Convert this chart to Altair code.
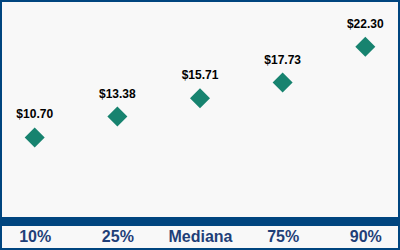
import altair as alt
import pandas as pd

categories = ["10%", "25%", "Mediana", "75%", "90%"]
values = [10.70, 13.38, 15.71, 17.73, 22.30]

df = pd.DataFrame({"cat": categories, "val": values})

FONT = "Liberation Sans"
BLUE = "#00457F"
TEAL = "#17836F"

x = alt.X("cat:O", sort=None, title=None,
          scale=alt.Scale(type="point", padding=0.42),
          axis=alt.Axis(labelAngle=0, labelFont=FONT, labelFontSize=16,
                        labelFontWeight="bold", labelColor="#1F3F78",
                        domainColor=BLUE, domainWidth=9, ticks=False,
                        tickSize=0, labelPadding=7, grid=False))
y = alt.Y("val:Q", title=None, axis=None,
          scale=alt.Scale(domain=[0, 28.3], nice=False, zero=True))

points = alt.Chart(df).mark_point(shape="diamond", filled=True, size=400,
                                  color=TEAL, opacity=1).encode(x=x, y=y)
labels = alt.Chart(df).mark_text(dy=-23, font=FONT, fontSize=12,
                                 fontWeight="bold", color="black").encode(
    x=x, y=y, text=alt.Text("val:Q", format="$.2f"))

frame = alt.Chart(pd.DataFrame({"a": [0]})).mark_rect(
    fillOpacity=0, stroke=BLUE, strokeWidth=2).encode(
    x=alt.value(1), x2=alt.value(399), y=alt.value(1), y2=alt.value(249))

chart = alt.layer(points, labels, frame).properties(
    width=400, height=221,
    autosize=alt.AutoSizeParams(type="none"),
    padding={"left": 0, "right": 0, "top": 0, "bottom": 29},
    background="#F8F8F8",
).configure_view(stroke=None)

chart.save("out.html", embed_options={"renderer": "svg", "actions": False})
